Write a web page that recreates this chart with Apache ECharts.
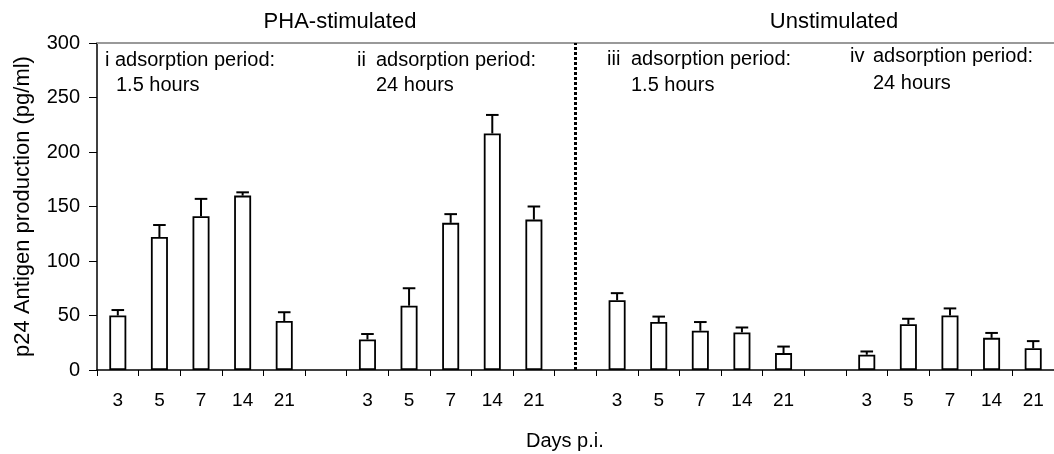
<!DOCTYPE html>
<html>
<head>
<meta charset="utf-8">
<script src="https://cdn.jsdelivr.net/npm/echarts@6/dist/echarts.min.js"></script>
<style>
html,body{margin:0;padding:0;background:#fff;}
#chart{width:1054px;height:454px;}
</style>
</head>
<body>
<div id="chart"></div>
<script>
// Days post infection (tick labels) for each group
const days = ['3', '5', '7', '14', '21'];
// i  PHA-stimulated, adsorption 1.5 h
const groupI = [50, 122, 141, 160, 45];
const errI = [5, 11, 16, 3, 8];
// ii PHA-stimulated, adsorption 24 h
const groupII = [28, 59, 135, 217, 138];
const errII = [5, 16, 8, 17, 12];
// iii Unstimulated, adsorption 1.5 h
const groupIII = [64, 44, 36, 34.5, 15.5];
const errIII = [6.5, 5, 8, 4.5, 6];
// iv Unstimulated, adsorption 24 h
const groupIV = [14, 42, 50, 29.5, 20];
const errIV = [3, 5, 6.5, 4.5, 6.5];

const yTicks = { min: 0, max: 300, interval: 50 };

const groups = [groupI, groupII, groupIII, groupIV];
const errs = [errI, errII, errIII, errIV];

// Build 23-slot category axis: 4 groups separated by an empty gap slot
const categories = [];
const values = [];
const errData = [];
groups.forEach((g, gi) => {
  if (gi > 0) { categories.push(''); values.push(null); }
  g.forEach((v, i) => {
    categories.push(days[i]);
    values.push(v);
    errData.push([categories.length - 1, v, errs[gi][i]]);
  });
});
const dividerIndex = 11; // gap between stimulated and unstimulated

const FONT = '"Liberation Sans", Arial, sans-serif';
const chart = echarts.init(document.getElementById('chart'), null, { renderer: 'canvas' });

const textEl = (x, y, text, size, align) => ({
  type: 'text', x: x, y: y,
  style: { text: text, font: size + 'px ' + FONT, fill: '#000', align: align || 'left', verticalAlign: 'middle' }
});

chart.setOption({
  animation: false,
  backgroundColor: '#fff',
  grid: { left: 97, right: 0, top: 43, bottom: 84 },
  xAxis: [{
    type: 'category',
    data: categories,
    position: 'bottom',
    axisLine: { lineStyle: { color: '#000', width: 1.5 } },
    axisTick: { show: true, length: 6, interval: 0, lineStyle: { color: '#000', width: 1 } },
    axisLabel: { interval: 0, margin: 21, fontSize: 19, fontFamily: FONT, color: '#000' },
    splitLine: { show: false }
  }, {
    type: 'category',
    data: categories,
    position: 'top',
    axisLine: { lineStyle: { color: '#999', width: 2 } },
    axisTick: { show: false },
    axisLabel: { show: false }
  }],
  yAxis: {
    type: 'value',
    min: yTicks.min, max: yTicks.max, interval: yTicks.interval,
    name: 'p24 Antigen production (pg/ml)',
    nameLocation: 'middle',
    nameGap: 63,
    nameTextStyle: { fontSize: 22, fontFamily: FONT, color: '#000' },
    axisLine: { show: true, lineStyle: { color: '#000', width: 1.5 } },
    axisTick: { show: true, length: 8, lineStyle: { color: '#000', width: 1 } },
    axisLabel: { margin: 17, fontSize: 20, fontFamily: FONT, color: '#000' },
    splitLine: { show: false }
  },
  series: [{
    type: 'bar',
    data: values,
    barWidth: 17,
    itemStyle: { color: '#fff', borderColor: '#000', borderWidth: 1.8 },
    markLine: {
      silent: true,
      symbol: ['none', 'none'],
      label: { show: false },
      lineStyle: { color: '#000', width: 3, type: [3, 2] },
      data: [{ xAxis: dividerIndex }]
    }
  }, {
    type: 'custom',
    data: errData,
    z: 3,
    renderItem: function (params, api) {
      const x = api.value(0);
      const base = api.coord([x, api.value(1)]);
      const top = api.coord([x, api.value(1) + api.value(2)]);
      const hw = 6.3;
      return {
        type: 'group',
        children: [{
          type: 'line',
          shape: { x1: base[0], y1: base[1], x2: top[0], y2: top[1] },
          style: { stroke: '#000', lineWidth: 2 }
        }, {
          type: 'line',
          shape: { x1: top[0] - hw, y1: top[1], x2: top[0] + hw, y2: top[1] },
          style: { stroke: '#000', lineWidth: 2 }
        }]
      };
    }
  }],
  graphic: [
    textEl(340, 22, 'PHA-stimulated', 22, 'center'),
    textEl(834, 22, 'Unstimulated', 22, 'center'),
    textEl(105, 60, 'i adsorption period:', 20),
    textEl(116, 85, '1.5 hours', 20),
    textEl(357, 60, 'ii', 20),
    textEl(376, 60, 'adsorption period:', 20),
    textEl(376, 85, '24 hours', 20),
    textEl(607, 59, 'iii', 20),
    textEl(631, 59, 'adsorption period:', 20),
    textEl(631, 85, '1.5 hours', 20),
    textEl(850, 56, 'iv', 20),
    textEl(873, 56, 'adsorption period:', 20),
    textEl(873, 83, '24 hours', 20),
    textEl(526, 441, 'Days p.i.', 20)
  ]
});
</script>
</body>
</html>
